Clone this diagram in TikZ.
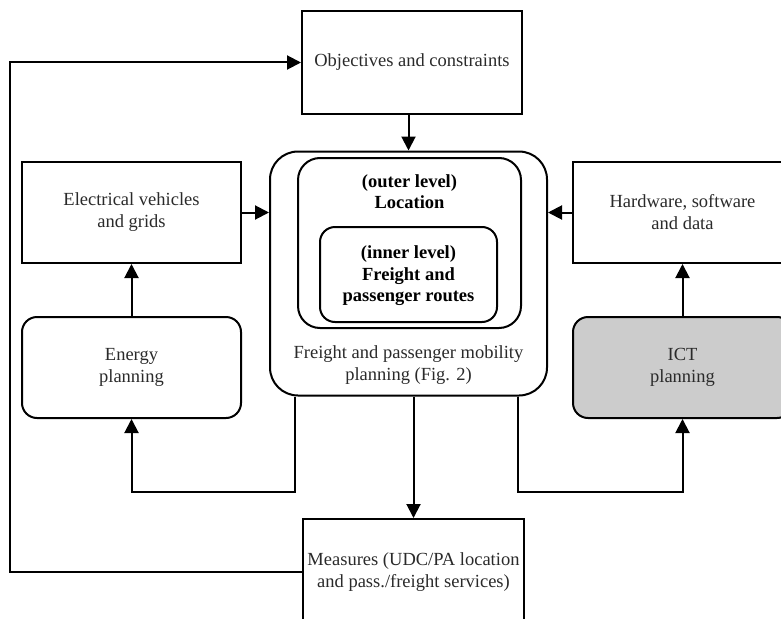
\documentclass[tikz,border=0pt]{standalone}
\usepackage{fontspec}
\setmainfont{Liberation Serif}
\usetikzlibrary{arrows.meta,calc}
\definecolor{ictgray}{HTML}{CCCCCC}
\definecolor{txt}{HTML}{2A2A2A}
\begin{document}
\begin{tikzpicture}[x=1pt,y=-1pt,
  every node/.style={font=\fontsize{18.5}{22}\selectfont, text=txt, align=center, inner sep=0pt},
  sqbox/.style={draw, line width=2pt, rectangle, minimum width=220pt, minimum height=102pt},
  rbox/.style={draw, line width=2pt, rectangle, rounded corners=15pt, minimum width=219pt, minimum height=101pt},
  arr/.style={line width=2pt, -{Triangle[length=14pt,width=14pt]}},
  ln/.style={line width=2pt}]
\useasboundingbox (0,0) rectangle (781,618);
\clip (0,0) rectangle (781,618);
\node[sqbox] (obj) at (412,62.5) {Objectives and constraints};
\node[draw, line width=2pt, rounded corners=28pt, minimum width=277pt, minimum height=244pt] (outer) at (408.5,273.5) {};
\node[draw, line width=2pt, rounded corners=22pt, minimum width=223pt, minimum height=170pt] (outerlvl) at (409.5,243) {};
\node[draw, line width=2pt, rounded corners=15pt, minimum width=177pt, minimum height=95pt] (inner) at (408.5,274.5) {};
\node[text=black, font=\fontsize{18.5}{21}\selectfont\bfseries] (outertxt) at (409.5,192) {(outer level)\\Location};
\node[text=black, font=\fontsize{18.5}{21.5}\selectfont\bfseries] (innertxt) at (408.5,276) {(inner level)\\Freight and\\passenger routes};
\node (mobtxt) at (408.5,365) {Freight and passenger mobility\\planning (Fig. 2)};
\node[sqbox, minimum width=219pt, minimum height=101pt] (ev) at (131.5,212.5) {Electrical vehicles\\and grids};
\node[rbox] (energy) at (131.5,367.5) {Energy\\planning};
\node[sqbox, minimum width=219pt, minimum height=101pt] (hw) at (682.5,212.5) {Hardware, software\\and data};
\node[rbox, fill=ictgray] (ict) at (682.5,367.5) {ICT\\planning};
\node[sqbox, minimum width=221pt, minimum height=106pt] (meas) at (413.5,572) {Measures (UDC/PA location\\and pass./freight services)};
\coordinate (lft) at (10,300);
\coordinate (rowy) at (0,492);
\draw[arr] (meas.west) -- (meas.west -| lft) |- (obj.west);
\draw[arr] (obj.south -| outer.north) -- (outer.north);
\draw[arr] (ev.east) -- (ev.east -| outer.west);
\draw[arr] (hw.west) -- (hw.west -| outer.east);
\draw[arr] (energy.north) -- (ev.south);
\draw[arr] (ict.north) -- (hw.south);
\draw[arr] (outer.south -| meas.north) -- (meas.north);
\draw[arr] ([xshift=26pt]outer.south west) |- (rowy -| energy.south) -- (energy.south);
\draw[arr] ([xshift=-30pt]outer.south east) |- (rowy -| ict.south) -- (ict.south);
\end{tikzpicture}
\end{document}
